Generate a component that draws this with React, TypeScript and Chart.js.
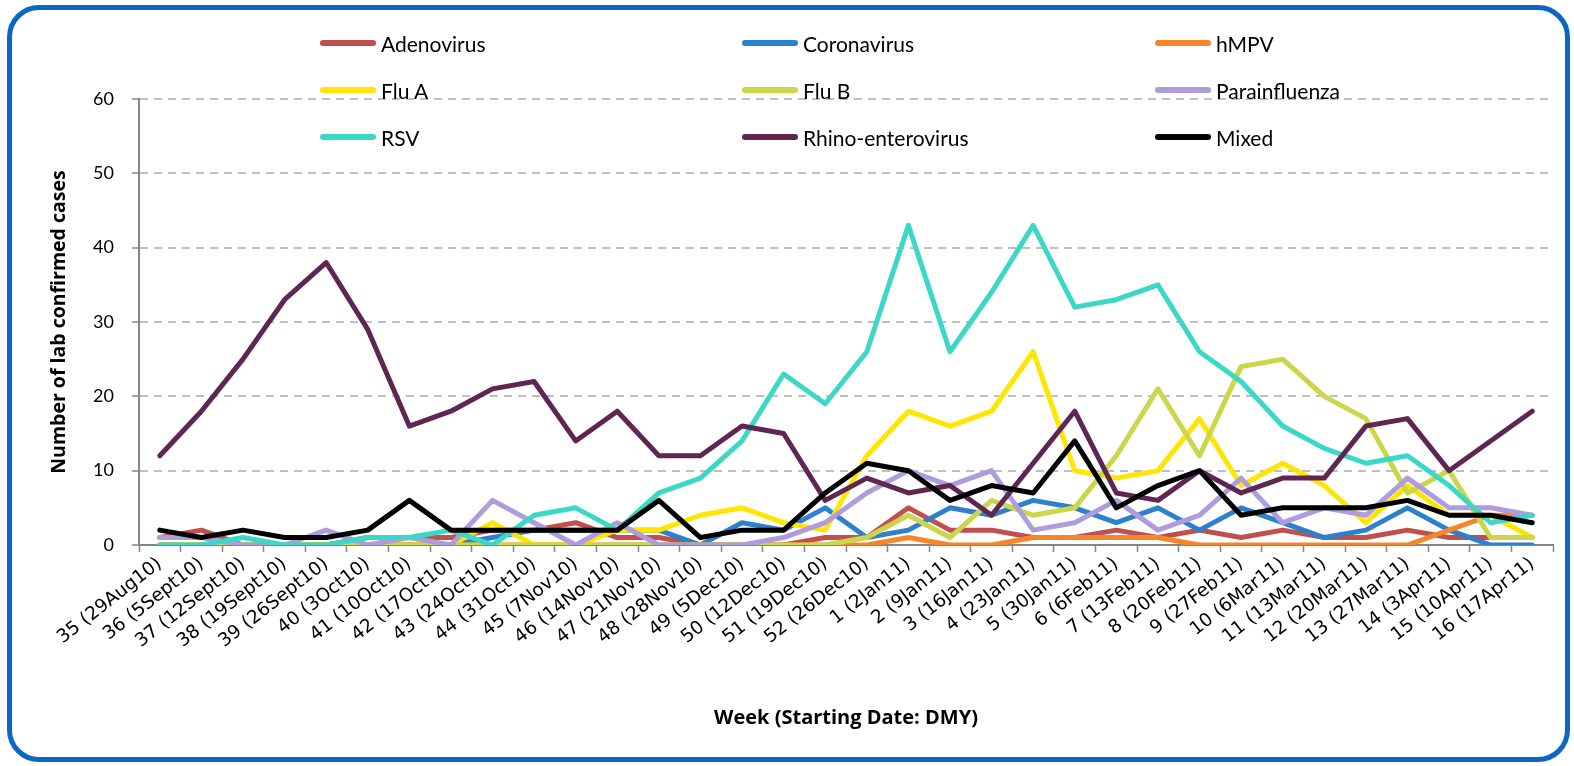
import React, { useEffect, useRef } from "react";
import { Chart, registerables } from "chart.js";

Chart.register(...registerables);

const weeks = [
  "35 (29Aug10)", "36 (5Sept10)", "37 (12Sept10)", "38 (19Sept10)", "39 (26Sept10)",
  "40 (3Oct10)", "41 (10Oct10)", "42 (17Oct10)", "43 (24Oct10)", "44 (31Oct10)",
  "45 (7Nov10)", "46 (14Nov10)", "47 (21Nov10)", "48 (28Nov10)", "49 (5Dec10)",
  "50 (12Dec10)", "51 (19Dec10)", "52 (26Dec10)", "1 (2Jan11)", "2 (9Jan11)",
  "3 (16Jan11)", "4 (23Jan11)", "5 (30Jan11)", "6 (6Feb11)", "7 (13Feb11)",
  "8 (20Feb11)", "9 (27Feb11)", "10 (6Mar11)", "11 (13Mar11)", "12 (20Mar11)",
  "13 (27Mar11)", "14 (3Apr11)", "15 (10Apr11)", "16 (17Apr11)",
];

const adenovirus = [1, 2, 0, 0, 0, 1, 1, 1, 2, 2, 3, 1, 1, 0, 0, 0, 1, 1, 5, 2, 2, 1, 1, 2, 1, 2, 1, 2, 1, 1, 2, 1, 1, 1];
const coronavirus = [0, 0, 0, 0, 0, 0, 0, 0, 1, 2, 2, 2, 2, 0, 3, 2, 5, 1, 2, 5, 4, 6, 5, 3, 5, 2, 5, 3, 1, 2, 5, 2, 0, 0];
const hmpv = [0, 0, 0, 0, 0, 0, 0, 0, 0, 0, 0, 0, 0, 0, 0, 0, 0, 0, 1, 0, 0, 1, 1, 1, 1, 0, 0, 0, 0, 0, 0, 2, 4, 4];
const fluA = [0, 0, 0, 0, 0, 0, 0, 0, 3, 0, 0, 2, 2, 4, 5, 3, 2, 12, 18, 16, 18, 26, 10, 9, 10, 17, 8, 11, 8, 3, 8, 4, 4, 1];
const fluB = [0, 0, 0, 0, 0, 0, 0, 0, 0, 0, 0, 0, 0, 0, 0, 0, 0, 1, 4, 1, 6, 4, 5, 12, 21, 12, 24, 25, 20, 17, 7, 10, 1, 1];
const parainfluenza = [1, 1, 0, 0, 2, 0, 1, 0, 6, 3, 0, 3, 0, 0, 0, 1, 3, 7, 10, 8, 10, 2, 3, 6, 2, 4, 9, 3, 5, 4, 9, 5, 5, 4];
const rsv = [0, 0, 1, 0, 0, 1, 1, 2, 0, 4, 5, 2, 7, 9, 14, 23, 19, 26, 43, 26, 34, 43, 32, 33, 35, 26, 22, 16, 13, 11, 12, 8, 3, 4];
const rhino = [12, 18, 25, 33, 38, 29, 16, 18, 21, 22, 14, 18, 12, 12, 16, 15, 6, 9, 7, 8, 4, 11, 18, 7, 6, 10, 7, 9, 9, 16, 17, 10, 14, 18];
const mixed = [2, 1, 2, 1, 1, 2, 6, 2, 2, 2, 2, 2, 6, 1, 2, 2, 7, 11, 10, 6, 8, 7, 14, 5, 8, 10, 4, 5, 5, 5, 6, 4, 4, 3];

const seriesNames = ["Adenovirus", "Coronavirus", "hMPV", "Flu A", "Flu B", "Parainfluenza", "RSV", "Rhino-enterovirus", "Mixed"];
const seriesData = [adenovirus, coronavirus, hmpv, fluA, fluB, parainfluenza, rsv, rhino, mixed];
const seriesColors = ["#C0504D", "#2F80CC", "#F7862A", "#FFE500", "#CCD64A", "#AE9CDC", "#3CD8C6", "#5E2650", "#000000"];

const yTitle = "Number of lab confirmed cases";
const xTitle = "Week (Starting Date: DMY)";

const legendColX = [320, 742, 1155];
const legendRowY = [43, 90, 137];

export default function App() {
  const canvasRef = useRef<HTMLCanvasElement | null>(null);

  useEffect(() => {
    if (!canvasRef.current) return;
    const chart = new Chart(canvasRef.current, {
      type: "line",
      data: {
        labels: weeks,
        datasets: seriesNames.map((name, i) => ({
          label: name,
          data: seriesData[i],
          borderColor: seriesColors[i],
          backgroundColor: seriesColors[i],
          borderWidth: 5,
          pointRadius: 0,
          tension: 0,
          fill: false,
          order: seriesNames.length - i,
          borderJoinStyle: "round" as const,
          borderCapStyle: "round" as const,
        })),
      },
      options: {
        responsive: false,
        animation: false,
        layout: { padding: { left: 40, top: 99, right: 21, bottom: 36 } },
        plugins: { legend: { display: false }, tooltip: { enabled: false } },
        scales: {
          x: {
            type: "category",
            offset: true,
            grid: {
              offset: true,
              drawOnChartArea: false,
              drawTicks: true,
              tickLength: 7,
              tickColor: "#868686",
              tickWidth: 1.5,
            },
            border: { display: true, color: "#868686", width: 2 },
            ticks: {
              autoSkip: false,
              maxRotation: 38,
              minRotation: 38,
              padding: 1,
              color: "#000",
              font: { family: "DejaVu Sans", size: 18.5 },
            },
            title: {
              display: true,
              text: xTitle,
              color: "#000",
              padding: 0,
              font: { family: "Open Sans", size: 20, weight: "bold" },
            },
            afterFit: (s: any) => {
              s.height = 185;
            },
          },
          y: {
            min: 0,
            max: 60,
            ticks: {
              stepSize: 10,
              padding: 18,
              color: "#000",
              font: { family: "Lato", size: 18 },
            },
            grid: {
              color: (ctx: any) => (ctx.tick && ctx.tick.value === 0 ? "rgba(0,0,0,0)" : "#BFBFBF"),
              lineWidth: 2,
              drawTicks: true,
              tickLength: 7,
              tickColor: "#868686",
              tickWidth: 1.5,
            },
            border: { display: true, color: "#868686", width: 2, dash: [8, 6] },
            title: {
              display: true,
              text: yTitle,
              color: "#000",
              padding: { top: 8, bottom: 0 },
              font: { family: "Open Sans", size: 19.5, weight: "bold" },
            },
            afterFit: (s: any) => {
              s.width = 99;
            },
          },
        },
      } as any,
    });
    return () => chart.destroy();
  }, []);

  return (
    <div style={{ position: "fixed", left: 0, top: 0, width: 1574, height: 766, background: "#fff", overflow: "hidden" }}>
      <div
        style={{
          position: "absolute",
          left: 7,
          top: 5,
          width: 1563,
          height: 757,
          boxSizing: "border-box",
          border: "5px solid #0A67C4",
          borderRadius: 32,
        }}
      />
      <canvas ref={canvasRef} width={1574} height={766} style={{ position: "absolute", left: 0, top: 0 }} />
      {seriesNames.map((name, i) => {
        const col = i % 3;
        const row = Math.floor(i / 3);
        return (
          <div
            key={name}
            style={{
              position: "absolute",
              left: legendColX[col],
              top: legendRowY[row] - 15,
              height: 30,
              display: "flex",
              alignItems: "center",
              fontFamily: "Lato",
              fontSize: 21,
              color: "#000",
              whiteSpace: "nowrap",
            }}
          >
            <span
              style={{
                display: "inline-block",
                width: 56,
                height: 6,
                borderRadius: 3,
                background: seriesColors[i],
                marginRight: 5,
              }}
            />
            <span>{name}</span>
          </div>
        );
      })}
    </div>
  );
}
